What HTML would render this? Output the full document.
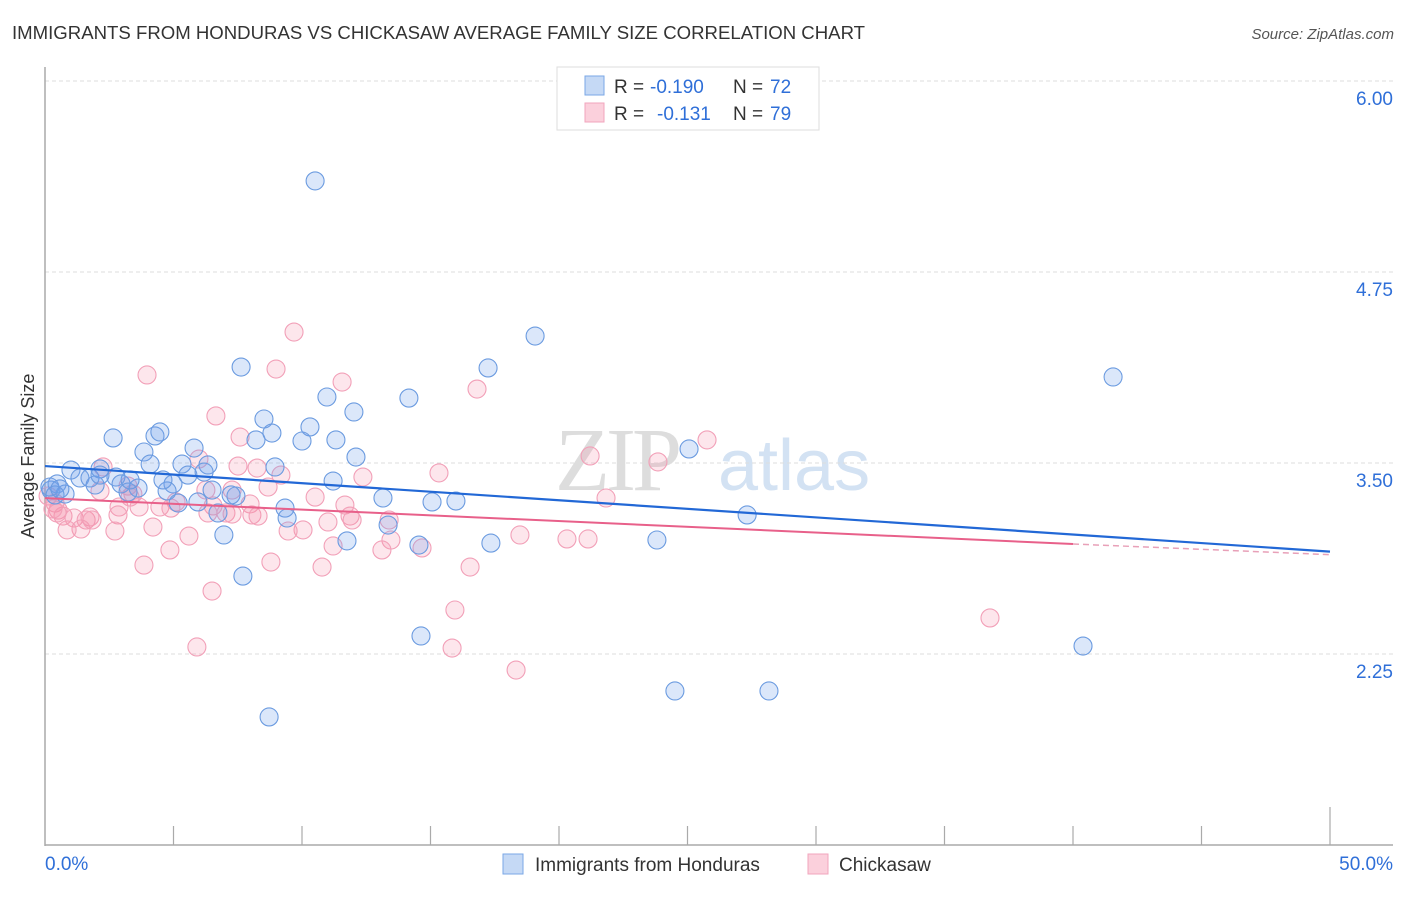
<!DOCTYPE html>
<html><head><meta charset="utf-8"><style>
body{margin:0;background:#fff;font-family:"Liberation Sans",sans-serif;}
</style></head><body>
<svg id="c" width="1406" height="892" xmlns="http://www.w3.org/2000/svg">
<text x="12" y="39" font-size="18.6" fill="#333">IMMIGRANTS FROM HONDURAS VS CHICKASAW AVERAGE FAMILY SIZE CORRELATION CHART</text>
<text x="1394" y="39" font-size="15" fill="#555" font-style="italic" text-anchor="end">Source: ZipAtlas.com</text>
<g><text x="555" y="490" font-size="90" fill="#ddd" font-family="Liberation Serif,serif" letter-spacing="-4">ZIP</text><text x="718" y="490" font-size="72" fill="#d3e2f3">atlas</text></g>
<g id="grid"></g><g id="axes"></g><g id="pts"></g><g id="trend"></g>
<text x="34" y="456" font-size="18" fill="#333" text-anchor="middle" transform="rotate(-90 34 456)">Average Family Size</text>
<g>
<rect x="557" y="67" width="262" height="63" fill="#fff" stroke="#ddd"/>
<rect x="585" y="76" width="19" height="19" fill="#c5d9f5" stroke="#7aa7e6"/>
<rect x="585" y="103" width="19" height="19" fill="#fbd0dc" stroke="#f2a5bd"/>
<text x="614" y="93" font-size="19" fill="#333">R =</text>
<text x="650" y="93" font-size="19" fill="#2f6fd8">-0.190</text>
<text x="733" y="93" font-size="19" fill="#333">N =</text>
<text x="770" y="93" font-size="19" fill="#2f6fd8">72</text>
<text x="614" y="120" font-size="19" fill="#333">R =</text>
<text x="657" y="120" font-size="19" fill="#2f6fd8">-0.131</text>
<text x="733" y="120" font-size="19" fill="#333">N =</text>
<text x="770" y="120" font-size="19" fill="#2f6fd8">79</text>
</g>
<g>
<rect x="503" y="854" width="20" height="20" fill="#c5d9f5" stroke="#7aa7e6"/>
<text x="535" y="871" font-size="19" fill="#333">Immigrants from Honduras</text>
<rect x="808" y="854" width="20" height="20" fill="#fbd0dc" stroke="#f2a5bd"/>
<text x="839" y="871" font-size="19" fill="#333">Chickasaw</text>
</g>
</svg>
<script>
const yTicks=[6.00,4.75,3.50,2.25];
const yTickLabels=["6.00","4.75","3.50","2.25"];
const xTickCount=10;
const bluePx=[[315,181],[535,336],[241,367],[488,368],[1113,377],[409,398],[327,397],[354,412],[264,419],[310,427],[113,438],[155,436],[160,432],[256,440],[272,433],[302,441],[336,440],[144,452],[194,448],[356,457],[689,449],[150,464],[182,464],[208,465],[71,470],[100,469],[188,475],[204,472],[275,467],[333,481],[80,478],[90,478],[116,477],[121,484],[138,488],[173,484],[212,490],[236,496],[383,498],[432,502],[456,501],[51,490],[57,484],[65,494],[95,485],[128,492],[167,491],[178,503],[198,502],[231,495],[285,508],[388,525],[747,515],[287,518],[218,513],[224,535],[347,541],[491,543],[657,540],[419,545],[243,576],[421,636],[1083,646],[675,691],[769,691],[269,717],[50,487],[55,495],[60,489],[100,475],[130,480],[163,480]];
const pinkPx=[[294,332],[147,375],[276,369],[342,382],[477,389],[216,416],[707,440],[240,437],[199,459],[238,466],[257,468],[103,467],[590,456],[658,462],[439,473],[363,477],[281,475],[128,486],[100,491],[133,494],[206,490],[232,490],[268,487],[315,497],[345,505],[176,502],[213,506],[250,504],[139,507],[160,507],[171,508],[119,507],[48,496],[55,503],[58,510],[63,516],[74,518],[86,520],[90,517],[118,515],[226,513],[232,514],[208,513],[252,515],[258,516],[350,516],[352,520],[328,522],[389,520],[303,530],[153,527],[81,529],[67,530],[115,531],[189,536],[520,535],[567,539],[588,539],[391,540],[333,546],[382,550],[422,548],[170,550],[288,531],[144,565],[271,562],[322,567],[470,567],[212,591],[455,610],[990,618],[197,647],[452,648],[516,670],[606,498],[57,513],[53,509],[92,520],[130,497]];
const honduras=bluePx.map(p=>[+((p[0]-45)/25.7).toFixed(2),+(3.5-(p[1]-463)/152.8).toFixed(3)]);
const chickasaw=pinkPx.map(p=>[+((p[0]-45)/25.7).toFixed(2),+(3.5-(p[1]-463)/152.8).toFixed(3)]);
const blueTrend=[[0,3.48],[50,2.92]];
const pinkTrend=[[0,3.27],[40,2.97],[50,2.90]];
const X=v=>45+v*25.7, Y=v=>463-(v-3.5)*152.8;
const NS="http://www.w3.org/2000/svg";
function mk(tag,a,parent){const e=document.createElementNS(NS,tag);for(const k in a)e.setAttribute(k,a[k]);document.getElementById(parent).appendChild(e);return e;}
yTicks.forEach((t,i)=>{
 const g=mk('line',{x1:45,x2:1393,y1:Y(t),y2:Y(t),stroke:'#ddd','stroke-dasharray':'4 3'},'grid');
 
 
 const l=mk('text',{x:1393,y:Y(t)+24,'font-size':19,fill:'#2f6fd8','text-anchor':'end'},'axes');
 l.textContent=yTickLabels[i];
 
 
});
let a=mk('line',{x1:45,x2:45,y1:67,y2:846,stroke:'#aaa','stroke-width':1.5},'axes');


a=mk('line',{x1:45,x2:1393,y1:845,y2:845,stroke:'#aaa','stroke-width':1.5},'axes');


for(let i=1;i<=xTickCount;i++){const v=i*5;const t=mk('line',{x1:X(v),x2:X(v),y1:i==xTickCount?807:826,y2:845,stroke:'#aaa','stroke-width':1.2},'axes');
 
 }
let l=mk('text',{x:45,y:870,'font-size':19,fill:'#2f6fd8'},'axes');l.textContent='0.0%';


l=mk('text',{x:1393,y:870,'font-size':19,fill:'#2f6fd8','text-anchor':'end'},'axes');l.textContent='50.0%';


chickasaw.forEach(d=>{const c=mk('circle',{cx:X(d[0]),cy:Y(d[1]),r:9,fill:'rgba(244,140,170,0.22)',stroke:'#f2a0b8','stroke-width':1.1},'pts');
 
 });
honduras.forEach(d=>{const c=mk('circle',{cx:X(d[0]),cy:Y(d[1]),r:9,fill:'rgba(110,160,235,0.25)',stroke:'#6b9be0','stroke-width':1.1},'pts');
 
 });
let t=mk('line',{x1:X(pinkTrend[0][0]),y1:Y(pinkTrend[0][1]),x2:X(pinkTrend[1][0]),y2:Y(pinkTrend[1][1]),stroke:'#e8608a','stroke-width':2},'trend');


t=mk('line',{x1:X(pinkTrend[1][0]),y1:Y(pinkTrend[1][1]),x2:X(pinkTrend[2][0]),y2:Y(pinkTrend[2][1]),stroke:'#e8a0b8','stroke-width':1.5,'stroke-dasharray':'6 4'},'trend');


t=mk('line',{x1:X(blueTrend[0][0]),y1:Y(blueTrend[0][1]),x2:X(blueTrend[1][0]),y2:Y(blueTrend[1][1]),stroke:'#2268d6','stroke-width':2.2},'trend');


</script>
</body></html>
